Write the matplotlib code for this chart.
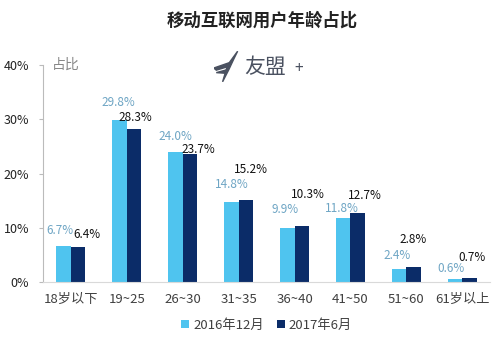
import matplotlib
matplotlib.use("Agg")
import matplotlib.pyplot as plt
import numpy as np
from matplotlib.patches import Polygon

plt.rcParams['font.family'] = ['Noto Sans CJK SC', 'DejaVu Sans']

# age groups and share of users (%)
ages = ['18岁以下', '19~25', '26~30', '31~35', '36~40', '41~50', '51~60', '61岁以上']
dec_2016 = [6.7, 29.8, 24.0, 14.8, 9.9, 11.8, 2.4, 0.6]
jun_2017 = [6.4, 28.3, 23.7, 15.2, 10.3, 12.7, 2.8, 0.7]
series_names = ['2016年12月', '2017年6月']
yticks = [0, 10, 20, 30, 40]

# label nudges in points (dx, dy) so the value texts don't collide
off_2016 = [(-3, 6), (-1, 8), (0, 6.5), (0, 8), (-1.5, 9), (-1, 2), (-1.5, 5), (-3, 3)]
off_2017 = [(6, 4.5), (1, 3), (6, -1.5), (3.6, 17), (4.5, 18), (5, 8), (0, 15), (1.5, 10)]

light = '#4fc4ef'
dark = '#0b2c68'
label_light = '#6ea5c4'

fig = plt.figure(figsize=(5.03, 3.41), dpi=100)
ax = fig.add_axes([0.0855, 0.173, 0.889, 0.636])

x = np.arange(len(ages))
w = 0.26
b1 = ax.bar(x - w / 2, dec_2016, w, color=light, label=series_names[0])
b2 = ax.bar(x + w / 2, jun_2017, w, color=dark, label=series_names[1])

for xi, v, (dx, dy) in zip(x - w / 2, dec_2016, off_2016):
    ax.annotate(f'{v:.1f}%', (xi, v), xytext=(dx, dy), textcoords='offset points',
                ha='center', va='bottom', fontsize=8.5, color=label_light)
for xi, v, (dx, dy) in zip(x + w / 2, jun_2017, off_2017):
    ax.annotate(f'{v:.1f}%', (xi, v), xytext=(dx, dy), textcoords='offset points',
                ha='center', va='bottom', fontsize=8.5, color='#111111')

ax.set_xlim(-0.5, len(ages) - 0.5)
ax.set_ylim(0, 40)
ax.set_yticks(yticks)
ax.set_yticklabels([f'{t}%' for t in yticks], fontsize=9, color='#222222')
ax.set_xticks(x)
ax.set_xticklabels(ages, fontsize=9.5, color='#404040')
ax.tick_params(axis='x', length=0, pad=8)
ax.tick_params(axis='y', length=3, color='#bbbbbb', pad=7)

for s in ['top', 'right']:
    ax.spines[s].set_visible(False)
ax.spines['left'].set_color('#bbbbbb')
ax.spines['bottom'].set_color('#d9d9d9')

ax.text(0.02, 1.0, '占比', transform=ax.transAxes, fontsize=10, color='#888888',
        ha='left', va='center')

fig.text(0.522, 0.94, '移动互联网用户年龄占比', fontsize=12.5, fontweight='bold',
         ha='center', va='center', color='#222222')

# brand mark: a small swept wing next to the name
wing = fig.add_axes([0.425, 0.76, 0.05, 0.09])
wing.set_xlim(0, 1)
wing.set_ylim(0, 1)
wing.axis('off')
wing.add_patch(Polygon([(0.95, 1.0), (0.55, 0.55), (0.35, 0.0), (0.6, 0.4), (0.8, 0.75)],
                       closed=True, color='#4a5160'))
wing.add_patch(Polygon([(0.0, 0.45), (0.6, 0.62), (0.5, 0.48), (0.1, 0.38)],
                       closed=True, color='#4a5160'))
wing.add_patch(Polygon([(0.1, 0.3), (0.55, 0.4), (0.45, 0.28)],
                       closed=True, color='#4a5160'))
fig.text(0.485, 0.803, '友盟', fontsize=15, color='#4a5160', ha='left', va='center')
fig.text(0.585, 0.8, '+', fontsize=11, color='#4a5160', ha='left', va='center')

ax.legend(handles=[b1, b2], labels=series_names, loc='upper center',
          bbox_to_anchor=(0.5, -0.115), ncol=2, frameon=False, fontsize=9.5,
          handlelength=0.6, handleheight=0.6, handletextpad=0.3, columnspacing=1.0,
          labelcolor='#404040')

fig.savefig('out.png', dpi=100)
